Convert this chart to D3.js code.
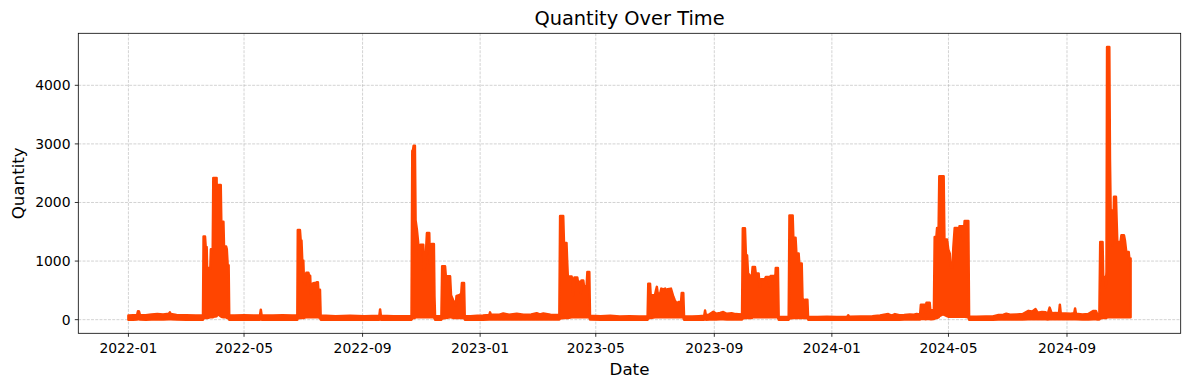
<!DOCTYPE html>
<html>
<head>
<meta charset="utf-8">
<script src="https://cdn.jsdelivr.net/npm/d3@7"></script>
<style>
  body { margin: 0; background: #fff; }
  svg { display: block; }
  text { font-family: "DejaVu Sans", sans-serif; fill: #000; }
</style>
</head>
<body>
<svg id="chart" width="1189" height="390"></svg>
<script>
// ---------------- data ----------------
const startDate = "2022-01-01";           // day offsets below count from this date
// envelope of the dense Quantity series: day offset, upper value, lower value
const dayOffset = [
  0,5,9,10,11,12,18,24,30,36,42,43,44,50,60,70,77.4,
  78,79.5,80.2,81.2,81.7,85,85.6,87.5,88.1,91.5,92.1,92.9,93.4,95.8,96.4,98.6,99.2,101.4,102.1,103,104,104.6,
  110,120,130,136.6,137.4,138.2,150,160,170,175.3,
  175.8,178,178.8,179.6,180.4,181.5,182.2,183.8,184.6,186.8,187.5,188.6,189.3,190,191.8,194.8,195.5,196.6,197.1,198.8,199.5,
  205,215,230,245,260.4,261.2,262,275,293.8,
  294.6,295.4,296,297.3,298,299.4,300.5,301.8,302.6,303.2,306,306.8,308.3,309.8,312.2,312.9,314.6,317,317.6,318.2,324.8,325.6,328.6,329.4,333.8,334.8,337,339.7,340.5,344,345.4,346.1,348.3,349,
  355,362,368,374.5,375.3,376.1,385,389,395,403,410,418,423.7,427,430.6,438,447.2,
  448,451.2,452,454.6,455.3,456,460,461,461.7,462.8,465.8,466.5,468.6,469.3,470.2,472,472.8,475.5,476.3,478.3,479,
  490,500,510,520,530,538.8,
  539.5,541.3,542,546.4,547.5,548.4,549.3,551.9,553,555,557,558.4,559.5,563,565.5,567,569,571,573.5,574.2,575.8,576.6,
  585,592,597.5,598.4,599.3,603,607,610,614,617.3,621,626,630,636.8,
  637.6,639.8,640.8,642,643,645.5,647,647.8,650.2,651,654,654.7,655.4,656.4,660.4,661.5,664.2,665.4,666.4,670,671,671.8,674,674.8,
  680,685.2,
  686,689.3,690,692.3,693.2,695.5,696.2,698.7,699.5,701,702.1,704.6,705.3,
  715,725,735,746,747,748,760,772,780,788.5,792,795.5,800,805,811,815,818,821.6,822.4,826.5,827.3,828.2,831.5,832.3,833.3,835.9,
  836.7,838.5,839.2,840.8,841.5,846,846.8,849.5,850.8,852.4,853.2,855.3,856,857.5,860.1,861.2,862.4,865.6,866.4,867.8,871.6,872.4,
  880,890,897,903,908,911,915,922,928,934,938,941.4,943.5,948,952,954,956,958,962,965.7,966.6,967.5,973,978,981.5,982.4,983.3,990,996,1001.5,1004,1005.5,1007.6,
  1008.5,1010.9,1011.6,1013.4,1014.1,1015,1015.6,1017.9,1018.6,1019.3,1020.5,1021,1022,1022.8,1024.8,1025.5,1026.2,1029.6,1030.5,1033.1,1034.1,1035.5,1038,1038.7,1040
];
const upper = [
  70,75,80,145,140,80,75,90,95,90,100,125,95,80,75,70,70,
  1420,1420,1240,1240,880,880,1200,1200,2420,2420,1650,1650,2300,2300,1670,1670,1250,1250,1200,930,930,70,
  70,75,70,75,170,75,70,75,70,70,
  1530,1530,1350,1350,1010,1010,650,600,800,800,750,750,450,600,620,630,640,640,510,510,65,
  65,60,65,60,65,175,65,60,60,
  2880,2900,2970,2970,1700,1530,1350,1070,1070,1280,1280,850,1000,1480,1480,960,1290,1290,400,60,60,910,910,740,740,415,330,245,405,420,450,625,625,60,
  60,65,70,80,125,85,85,105,85,100,85,90,110,90,105,85,80,
  1770,1770,1310,1310,1000,735,735,640,415,720,720,645,645,440,670,670,570,570,815,815,65,
  60,65,55,60,55,55,
  615,615,415,415,500,560,445,445,530,515,530,440,520,530,390,330,275,300,300,455,455,55,
  55,60,65,155,70,90,135,100,115,130,100,110,95,90,
  1560,1560,1100,1100,790,740,740,900,900,790,790,630,560,690,690,730,730,560,745,745,600,880,880,50,
  45,45,
  1780,1780,1400,1400,1130,1130,960,960,370,300,340,340,45,
  45,50,45,50,75,50,55,60,70,95,70,95,75,80,90,85,95,90,255,255,120,290,290,130,160,160,
  1412,1412,1566,1566,2449,2449,1368,1368,1200,1128,900,900,1214,1566,1566,1241,1595,1595,1356,1686,1686,50,
  50,55,55,80,85,100,85,90,95,150,140,180,120,130,125,95,205,110,115,110,255,110,105,100,110,190,100,90,95,150,150,90,85,
  1327,1327,729,729,558,814,4655,4655,2735,1868,1868,1270,1385,2096,2096,1697,1327,1327,1441,1441,1356,1156,1156,1043,1043
];
const lower = [
  0,0,3,5,5,3,0,3,5,3,5,5,5,3,0,0,0,
  20,30,30,30,30,40,40,40,50,60,80,100,90,60,50,40,40,40,30,30,20,0,
  0,0,0,0,5,0,0,0,0,0,
  20,30,30,30,30,30,30,40,40,40,40,40,40,40,40,40,40,40,40,30,0,
  0,0,0,0,0,5,0,0,0,
  20,30,30,30,40,40,40,40,40,40,40,40,40,40,40,40,40,40,20,0,0,20,30,30,40,40,30,30,30,30,30,30,30,0,
  0,0,0,3,5,3,3,5,3,5,3,3,5,3,5,3,3,
  20,30,30,30,30,30,40,40,40,40,40,40,40,40,40,40,40,40,40,40,3,
  0,0,0,0,0,0,
  20,30,30,40,40,40,40,40,40,40,40,40,40,40,40,40,40,40,40,40,40,0,
  0,0,0,5,0,3,5,3,5,5,3,5,3,3,
  20,30,30,30,30,30,30,40,40,40,40,40,40,40,40,40,40,40,40,40,40,40,40,0,
  0,0,
  20,30,30,30,30,30,30,30,30,30,30,30,0,
  0,0,0,0,3,0,0,0,0,3,0,3,0,3,3,3,3,3,10,10,5,10,10,5,8,10,
  20,30,30,40,60,100,80,60,50,50,50,50,50,50,50,50,50,50,50,50,40,0,
  0,0,0,3,3,5,3,3,3,5,5,5,5,5,5,3,5,5,5,5,5,5,5,5,5,5,5,3,3,5,5,3,3,
  20,30,30,30,30,30,40,40,40,40,40,40,40,40,40,40,40,40,40,40,40,40,40,40,40
];
const xTickDates  = ["2022-01-01","2022-05-01","2022-09-01","2023-01-01","2023-05-01","2023-09-01","2024-01-01","2024-05-01","2024-09-01"];
const xTickLabels = ["2022-01","2022-05","2022-09","2023-01","2023-05","2023-09","2024-01","2024-05","2024-09"];
const yTickValues = [0, 1000, 2000, 3000, 4000];
const yTickLabels = ["0", "1000", "2000", "3000", "4000"];
const titleText = "Quantity Over Time";
const xLabel = "Date";
const yLabel = "Quantity";

// ---------------- layout ----------------
const L = 78.3, R = 1180.7, T = 33.3, B = 333.3;
const lineColor = "#FF4500";

const t0 = Date.parse(startDate + "T00:00:00Z");
const data = dayOffset.map((d, i) => ({ date: new Date(t0 + d * 864e5), hi: upper[i], lo: lower[i] }));

const xExt = d3.extent(data, d => d.date);
const xPad = (xExt[1] - xExt[0]) * 0.05;
const x = d3.scaleUtc()
  .domain([new Date(+xExt[0] - xPad), new Date(+xExt[1] + xPad)])
  .range([L, R]);

const yMin = d3.min(lower), yMax = d3.max(upper), yPad = (yMax - yMin) * 0.05;
const y = d3.scaleLinear().domain([yMin - yPad, yMax + yPad]).range([B, T]);

const svg = d3.select("#chart");
svg.append("rect").attr("width", 1189).attr("height", 390).attr("fill", "#fff");

// grid
const grid = svg.append("g").attr("stroke", "#b0b0b0").attr("stroke-opacity", 0.7)
  .attr("stroke-width", 0.8).attr("stroke-dasharray", "2.96,1.28");
xTickDates.forEach(s => {
  const xv = x(new Date(s + "T00:00:00Z"));
  grid.append("line").attr("x1", xv).attr("x2", xv).attr("y1", T).attr("y2", B);
});
yTickValues.forEach(v => {
  grid.append("line").attr("x1", L).attr("x2", R).attr("y1", y(v)).attr("y2", y(v));
});

// series
const area = d3.area()
  .x(d => x(d.date))
  .y0(d => y(d.lo))
  .y1(d => y(d.hi));
svg.append("path").datum(data)
  .attr("d", area)
  .attr("fill", lineColor)
  .attr("stroke", lineColor)
  .attr("stroke-width", 2.5)
  .attr("stroke-linejoin", "round");

// frame
svg.append("rect").attr("x", L).attr("y", T).attr("width", R - L).attr("height", B - T)
  .attr("fill", "none").attr("stroke", "#000").attr("stroke-width", 0.8);

// x ticks
const xt = svg.append("g");
xTickDates.forEach((s, i) => {
  const xv = x(new Date(s + "T00:00:00Z"));
  xt.append("line").attr("x1", xv).attr("x2", xv).attr("y1", B).attr("y2", B + 3.5)
    .attr("stroke", "#000").attr("stroke-width", 0.8);
  xt.append("text").attr("x", xv).attr("y", 352.5).attr("text-anchor", "middle")
    .attr("font-size", "13.9px").text(xTickLabels[i]);
});

// y ticks
const yt = svg.append("g");
yTickValues.forEach((v, i) => {
  const yv = y(v);
  yt.append("line").attr("x1", L - 3.5).attr("x2", L).attr("y1", yv).attr("y2", yv)
    .attr("stroke", "#000").attr("stroke-width", 0.8);
  yt.append("text").attr("x", 70.5).attr("y", yv).attr("dy", "0.36em").attr("text-anchor", "end")
    .attr("font-size", "13.9px").text(yTickLabels[i]);
});

// labels and title
svg.append("text").attr("x", (L + R) / 2).attr("y", 25).attr("text-anchor", "middle")
  .attr("font-size", "19.4px").text(titleText);
svg.append("text").attr("x", (L + R) / 2).attr("y", 375).attr("text-anchor", "middle")
  .attr("font-size", "16.7px").text(xLabel);
svg.append("text").attr("transform", `translate(23.5,${(T + B) / 2}) rotate(-90)`)
  .attr("text-anchor", "middle").attr("font-size", "16.7px").text(yLabel);
</script>
</body>
</html>
